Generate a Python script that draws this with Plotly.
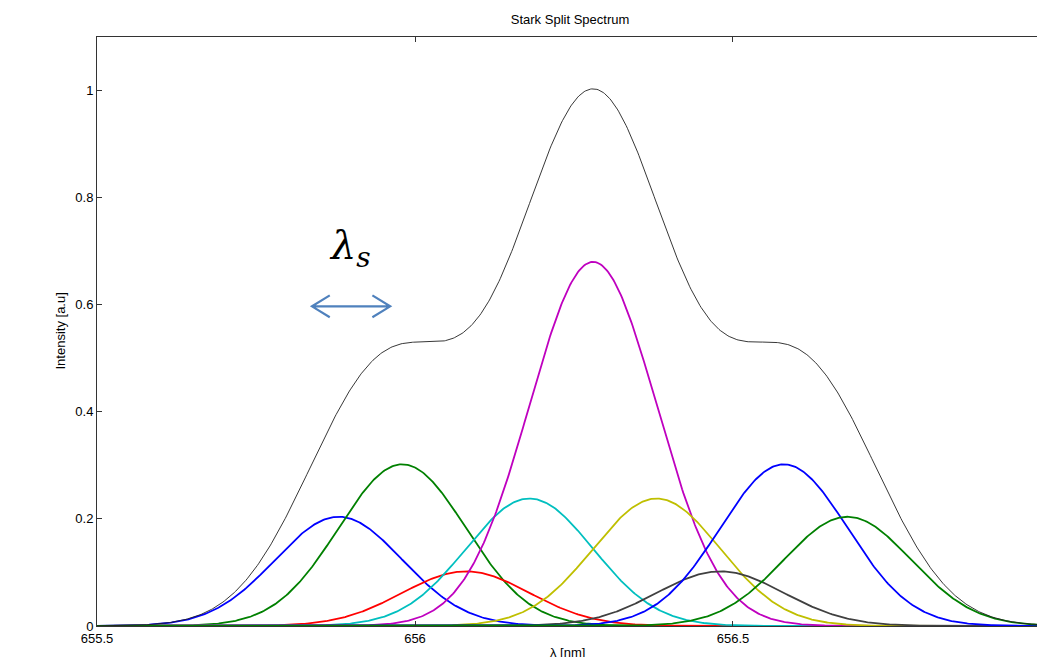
import numpy as np
import plotly.graph_objects as go

# Component lines
centers = [655.88, 655.98, 656.08, 656.18, 656.28, 656.38, 656.48, 656.58, 656.68]
amplitudes = [0.204, 0.302, 0.102, 0.238, 0.68, 0.238, 0.102, 0.302, 0.204]
colors = ["#0000ff", "#008000", "#ff0000", "#00bfbf", "#bf00bf", "#bfbf00",
          "#404040", "#0000ff", "#008000"]
sigma = 0.1  # common Gaussian width [nm]

x_ticks = [655.5, 656, 656.5]
x_tick_text = ["655.5", "656", "656.5"]
y_ticks = [0, 0.2, 0.4, 0.6, 0.8, 1.0]
y_tick_text = ["0", "0.2", "0.4", "0.6", "0.8", "1"]

wl = np.arange(655.5, 657.1, 0.002)

fig = go.Figure()
comps = []
for c, a, col in zip(centers, amplitudes, colors):
    y = a * np.exp(-(wl - c) ** 2 / (2 * sigma ** 2))
    comps.append(y)
    fig.add_trace(go.Scatter(x=wl, y=y, mode="lines",
                             line=dict(color=col, width=1.8), showlegend=False))
total = np.sum(comps, axis=0)
fig.add_trace(go.Scatter(x=wl, y=total, mode="lines",
                         line=dict(color="#202020", width=0.9), showlegend=False))

# double arrow (lambda_s) in data coordinates
ax0, ax1, ay = 655.838, 655.961, 0.597
hx, hy = 0.028, 0.0205
arrow_path = (f"M {ax0} {ay} L {ax1} {ay} "
              f"M {ax0+hx} {ay+hy} L {ax0} {ay} L {ax0+hx} {ay-hy} "
              f"M {ax1-hx} {ay+hy} L {ax1} {ay} L {ax1-hx} {ay-hy}")
fig.add_shape(type="path", path=arrow_path, xref="x", yref="y",
              line=dict(color="#4F81BD", width=2.2))

fig.add_annotation(x=655.898, y=0.706, xref="x", yref="y",
                   text="<i>λ<sub>s</sub></i>", showarrow=False,
                   font=dict(family="DejaVu Serif", size=40, color="black"))

fig.add_annotation(x=0.5, y=0, xref="paper", yref="paper", yanchor="top",
                   yshift=-17, text="λ [nm]", showarrow=False,
                   font=dict(family="Liberation Sans", size=13, color="black"))
fig.add_annotation(x=0, y=0.5, xref="paper", yref="paper", xanchor="center",
                   xshift=-37, text="Intensity [a.u]", textangle=-90, showarrow=False,
                   font=dict(family="Liberation Sans", size=13, color="black"))

fig.update_layout(
    width=1037, height=657,
    margin=dict(l=97, r=0, t=37, b=31),
    paper_bgcolor="white", plot_bgcolor="white",
    title=dict(text="Stark Split Spectrum", x=0.5497, xanchor="center", y=0.971, yanchor="middle",
               font=dict(family="Liberation Sans", size=13, color="black")),
    font=dict(family="Liberation Sans", size=13, color="black"),
    xaxis=dict(range=[655.5, 656.978], tickvals=x_ticks, ticktext=x_tick_text,
               ticks="inside", ticklen=5, tickcolor="#333", showgrid=False,
               zeroline=False, showline=True, linecolor="#333", linewidth=1,
               mirror="ticks"),
    yaxis=dict(range=[0, 1.1], tickvals=y_ticks, ticktext=y_tick_text,
               ticks="inside", ticklen=5, tickcolor="#333", showgrid=False,
               zeroline=False, showline=True, linecolor="#333", linewidth=1),
)

fig.write_html("out.html")
